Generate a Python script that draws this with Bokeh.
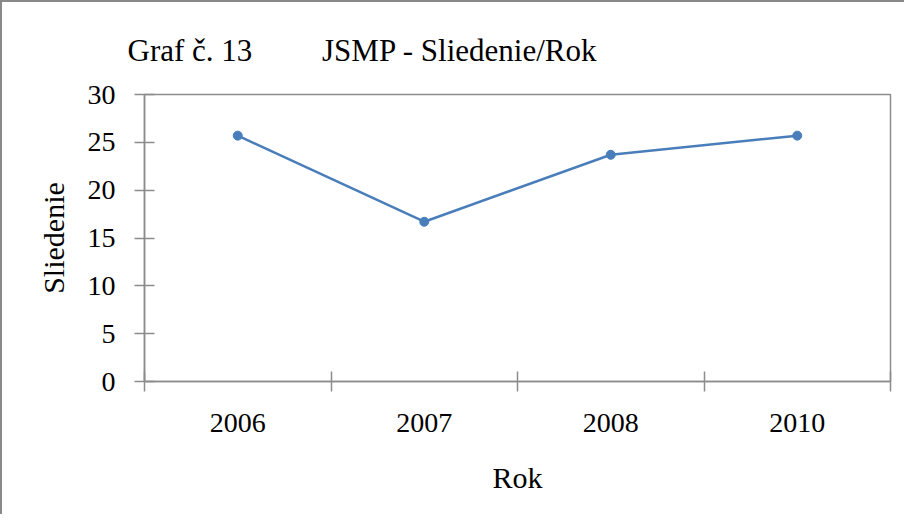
from bokeh.plotting import figure
from bokeh.models import Range1d, FixedTicker, LinearAxis, ColumnDataSource
from bokeh.embed import file_html
from bokeh.resources import INLINE

# ---- data ----
years = ["2006", "2007", "2008", "2010"]
values = [25.7, 16.7, 23.7, 25.7]
y_ticks = [0, 5, 10, 15, 20, 25, 30]
title_left = "Graf č. 13"
title_right = "JSMP - Sliedenie/Rok"
x_label = "Rok"
y_label = "Sliedenie"

FONT = "Liberation Serif"
AXIS_GRAY = "#8c8c8c"
BLUE = "#4a7ebb"

n = len(years)
xpos = [i + 0.5 for i in range(n)]
src = ColumnDataSource(dict(x=xpos, y=values, year=years))

p = figure(width=904, height=514, output_backend="svg", toolbar_location=None,
           x_range=Range1d(0, n), y_range=Range1d(0, 30),
           x_axis_location=None, y_axis_location=None,
           min_border_left=142, min_border_right=16,
           min_border_top=92, min_border_bottom=135)
p.styles = {"border-left": "2px solid #898989", "border-top": "2px solid #898989"}
p.grid.visible = False
p.outline_line_color = AXIS_GRAY
p.outline_line_width = 1.5

# title
p.title.text = title_left + "\u00a0" * 9 + title_right
p.title.align = "left"
p.title.offset = -17
p.title.text_font = FONT
p.title.text_font_style = "normal"
p.title.text_font_size = "31px"
p.title.text_color = "black"
p.title.standoff = 54

# y axis
yax = LinearAxis(ticker=FixedTicker(ticks=y_ticks), axis_label=y_label)
yax.major_tick_in = 10
yax.major_tick_out = 10
yax.minor_tick_line_color = None
yax.axis_line_color = AXIS_GRAY
yax.axis_line_width = 1.5
yax.major_tick_line_color = AXIS_GRAY
yax.major_tick_line_width = 1.5
yax.major_label_text_font = FONT
yax.major_label_text_font_size = "28px"
yax.major_label_text_color = "black"
yax.major_label_standoff = 19
yax.axis_label_text_font = FONT
yax.axis_label_text_font_size = "30px"
yax.axis_label_text_font_style = "normal"
yax.axis_label_text_color = "black"
yax.axis_label_standoff = 15
p.add_layout(yax, "left")

# x axis: tick marks between categories
xax1 = LinearAxis(ticker=FixedTicker(ticks=list(range(n + 1))))
xax1.major_tick_in = 10
xax1.major_tick_out = 10
xax1.minor_tick_line_color = None
xax1.axis_line_color = AXIS_GRAY
xax1.axis_line_width = 1.5
xax1.major_tick_line_color = AXIS_GRAY
xax1.major_tick_line_width = 1.5
xax1.major_label_text_font_size = "0px"
xax1.major_label_standoff = 0
xax1.major_label_overrides = {i: "" for i in range(n + 1)}
p.add_layout(xax1, "below")

# x axis: category labels
xax2 = LinearAxis(ticker=FixedTicker(ticks=xpos), axis_label=x_label)
xax2.major_label_overrides = {x: y for x, y in zip(xpos, years)}
xax2.axis_line_color = None
xax2.major_tick_line_color = None
xax2.minor_tick_line_color = None
xax2.major_tick_out = 0
xax2.major_tick_in = 0
xax2.major_label_text_font = FONT
xax2.major_label_text_font_size = "28px"
xax2.major_label_text_color = "black"
xax2.major_label_standoff = 22
xax2.axis_label_text_font = FONT
xax2.axis_label_text_font_size = "30px"
xax2.axis_label_text_font_style = "normal"
xax2.axis_label_text_color = "black"
xax2.axis_label_standoff = 26
p.add_layout(xax2, "below")

p.line("x", "y", source=src, line_color=BLUE, line_width=2.5)
p.scatter("x", "y", source=src, size=9, fill_color=BLUE, line_color=BLUE)

open("out.html", "w").write(file_html(p, INLINE))
